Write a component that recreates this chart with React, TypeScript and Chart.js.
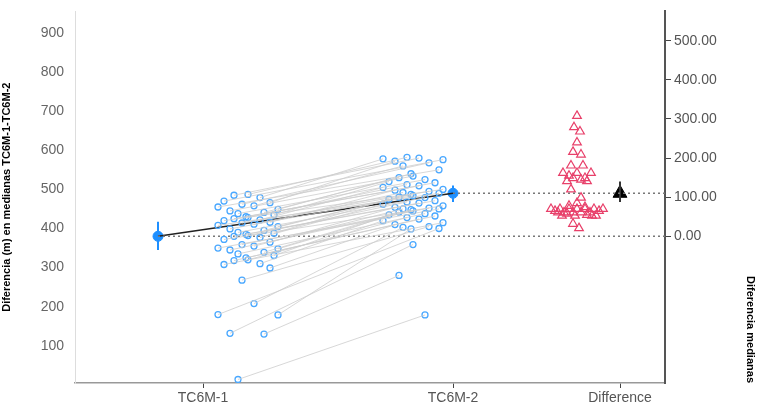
import React, { useEffect, useRef } from "react";
import { Chart, registerables } from "chart.js";
Chart.register(...registerables);

const categories = ["TC6M-1", "TC6M-2", "Difference"];
const catX = [128, 378, 545];
const pre = [487,485,479,470,466,462,458,455,449,445,441,438,435,430,428,425,422,420,416,414,411,408,405,399,395,390,388,385,382,380,377,372,365,359,355,350,348,345,339,335,331,325,320,318,310,308,299,268,208,180,179,132,130,14];
const post = [582,580,578,576,572,568,560,550,540,534,530,525,520,517,512,509,505,500,498,495,492,490,487,484,480,479,475,471,468,465,462,458,454,452,450,450,448,445,442,438,435,432,428,424,420,415,410,405,403,400,399,359,280,179];
const diffs = [308,279,268,240,216,209,181,181,162,162,162,155,149,149,145,141,141,120,99,85,78,75,70,70,70,70,70,70,70,65,65,61,61,61,61,61,58,55,53,53,53,53,32,21];
const jitter = [0,-14,12,-24,22,-6,6,-30,30,-18,16,-10,26,-2];
const diffJitter = [0,-3,3,0,-4,4,-6,6,0,-14,14,-8,8,-4,4,-10,10,-6,4,0,-8,8,-26,-17,-8,0,8,17,26,-22,22,-13,-4,4,13,-19,-10,10,19,-15,-2,15,-4,2];
const mean1 = { v: 380, lo: 345, hi: 417 };
const mean2 = { v: 490, lo: 468, hi: 510 };
const meanDiff = { v: 110, lo: 88, hi: 140 };
const leftTicks = [100,200,300,400,500,600,700,800,900];
const rightTicks = [0,100,200,300,400,500];

export default function App() {
  const ref = useRef<HTMLCanvasElement>(null);
  useEffect(() => {
    const preX = catX[0] + 45, postX = catX[1] - 40, diffX = catX[2] - 43, m1x = catX[0] - 45;
    const ds: any[] = [];
    pre.forEach((p, i) => {
      ds.push({ type: "line", data: [{ x: preX + jitter[i % jitter.length], y: p }, { x: postX + jitter[(i + 5) % jitter.length], y: post[i] }], borderColor: "rgba(205,205,205,0.8)", borderWidth: 1, pointRadius: 0, yAxisID: "y" });
    });
    ds.push({ type: "scatter", data: pre.map((p, i) => ({ x: preX + jitter[i % jitter.length], y: p })), pointStyle: "circle", pointRadius: 3, borderColor: "#4aa8ff", backgroundColor: "rgba(255,255,255,0)", borderWidth: 1.3, yAxisID: "y" });
    ds.push({ type: "scatter", data: post.map((p, i) => ({ x: postX + jitter[(i + 5) % jitter.length], y: p })), pointStyle: "circle", pointRadius: 3, borderColor: "#4aa8ff", backgroundColor: "rgba(255,255,255,0)", borderWidth: 1.3, yAxisID: "y" });
    const dot = { type: "line", borderColor: "#777", borderWidth: 1.5, borderDash: [2, 3], pointRadius: 0, yAxisID: "y" };
    ds.push({ ...dot, data: [{ x: m1x, y: mean1.v }, { x: 590, y: mean1.v }] });
    ds.push({ ...dot, data: [{ x: catX[1], y: mean2.v }, { x: 590, y: mean2.v }] });
    ds.push({ type: "line", data: [{ x: m1x, y: mean1.v }, { x: catX[1], y: mean2.v }], borderColor: "#222", borderWidth: 1.5, pointRadius: 0, yAxisID: "y" });
    ds.push({ type: "line", data: [{ x: m1x, y: mean1.lo }, { x: m1x, y: mean1.hi }], borderColor: "#1e8fff", borderWidth: 2, pointRadius: 0, yAxisID: "y" });
    ds.push({ type: "line", data: [{ x: catX[1], y: mean2.lo }, { x: catX[1], y: mean2.hi }], borderColor: "#1e8fff", borderWidth: 2, pointRadius: 0, yAxisID: "y" });
    ds.push({ type: "scatter", data: [{ x: m1x, y: mean1.v }, { x: catX[1], y: mean2.v }], pointRadius: 5, backgroundColor: "#1e8fff", borderColor: "#1e8fff", yAxisID: "y" });
    ds.push({ type: "scatter", data: diffs.map((d, i) => ({ x: diffX + diffJitter[i], y: d })), pointStyle: "triangle", pointRadius: 5, borderColor: "#e8406a", backgroundColor: "rgba(255,255,255,0)", borderWidth: 1.2, yAxisID: "y2" });
    ds.push({ type: "line", data: [{ x: catX[2], y: meanDiff.lo }, { x: catX[2], y: meanDiff.hi }], borderColor: "#333", borderWidth: 2, pointRadius: 0, yAxisID: "y2" });
    ds.push({ type: "scatter", data: [{ x: catX[2], y: meanDiff.v }], pointStyle: "triangle", pointRadius: 8, backgroundColor: "#000", borderColor: "#000", yAxisID: "y2" });

    const tickFont = { family: "Liberation Sans", size: 14 };
    const c = new Chart(ref.current!, {
      type: "scatter",
      data: { datasets: ds },
      options: {
        animation: false, responsive: false, maintainAspectRatio: false,
        layout: { padding: { top: 10 } },
        plugins: { legend: { display: false }, tooltip: { enabled: false } },
        scales: {
          x: { type: "linear", min: 0, max: 590,
            afterBuildTicks: (s: any) => { s.ticks = catX.map(v => ({ value: v })); },
            afterFit: (s: any) => { s.height = 24; },
            ticks: { color: "#555", font: tickFont, padding: 2, callback: (v: any) => categories[catX.indexOf(Number(v))] ?? "" },
            grid: { drawOnChartArea: false, tickLength: 5, color: "#444" },
            border: { color: "#999", width: 1.5 } },
          y: { position: "left", min: 5, max: 955,
            afterBuildTicks: (s: any) => { s.ticks = leftTicks.map(v => ({ value: v })); },
            afterFit: (s: any) => { s.width = 75; },
            ticks: { color: "#666", font: tickFont },
            grid: { display: false },
            border: { color: "#ddd", width: 1 },
            title: { display: true, text: "Diferencia (m) en medianas TC6M-1-TC6M-2", color: "#000", font: { family: "Liberation Sans", size: 11, weight: "bold" }, padding: 0 } },
          y2: { position: "right", min: -375, max: 575,
            afterBuildTicks: (s: any) => { s.ticks = rightTicks.map(v => ({ value: v })); },
            afterFit: (s: any) => { s.width = 92; },
            ticks: { color: "#555", font: tickFont, padding: 3, callback: (v: any) => Number(v).toFixed(2) },
            grid: { drawOnChartArea: false, tickLength: 6, color: "#444" },
            border: { color: "#555", width: 2 },
            title: { display: true, align: "start", text: "Diferencia medianas", color: "#000", font: { family: "Liberation Sans", size: 11, weight: "bold" }, padding: { top: 0, bottom: 0, y: 30 } } },
        },
      } as any,
    });
    return () => c.destroy();
  }, []);
  return (
    <div style={{ position: "fixed", left: 0, top: 0, width: 757, height: 407, background: "#fff" }}>
      <canvas ref={ref} width={757} height={407} style={{ width: 757, height: 407 }} />
    </div>
  );
}
